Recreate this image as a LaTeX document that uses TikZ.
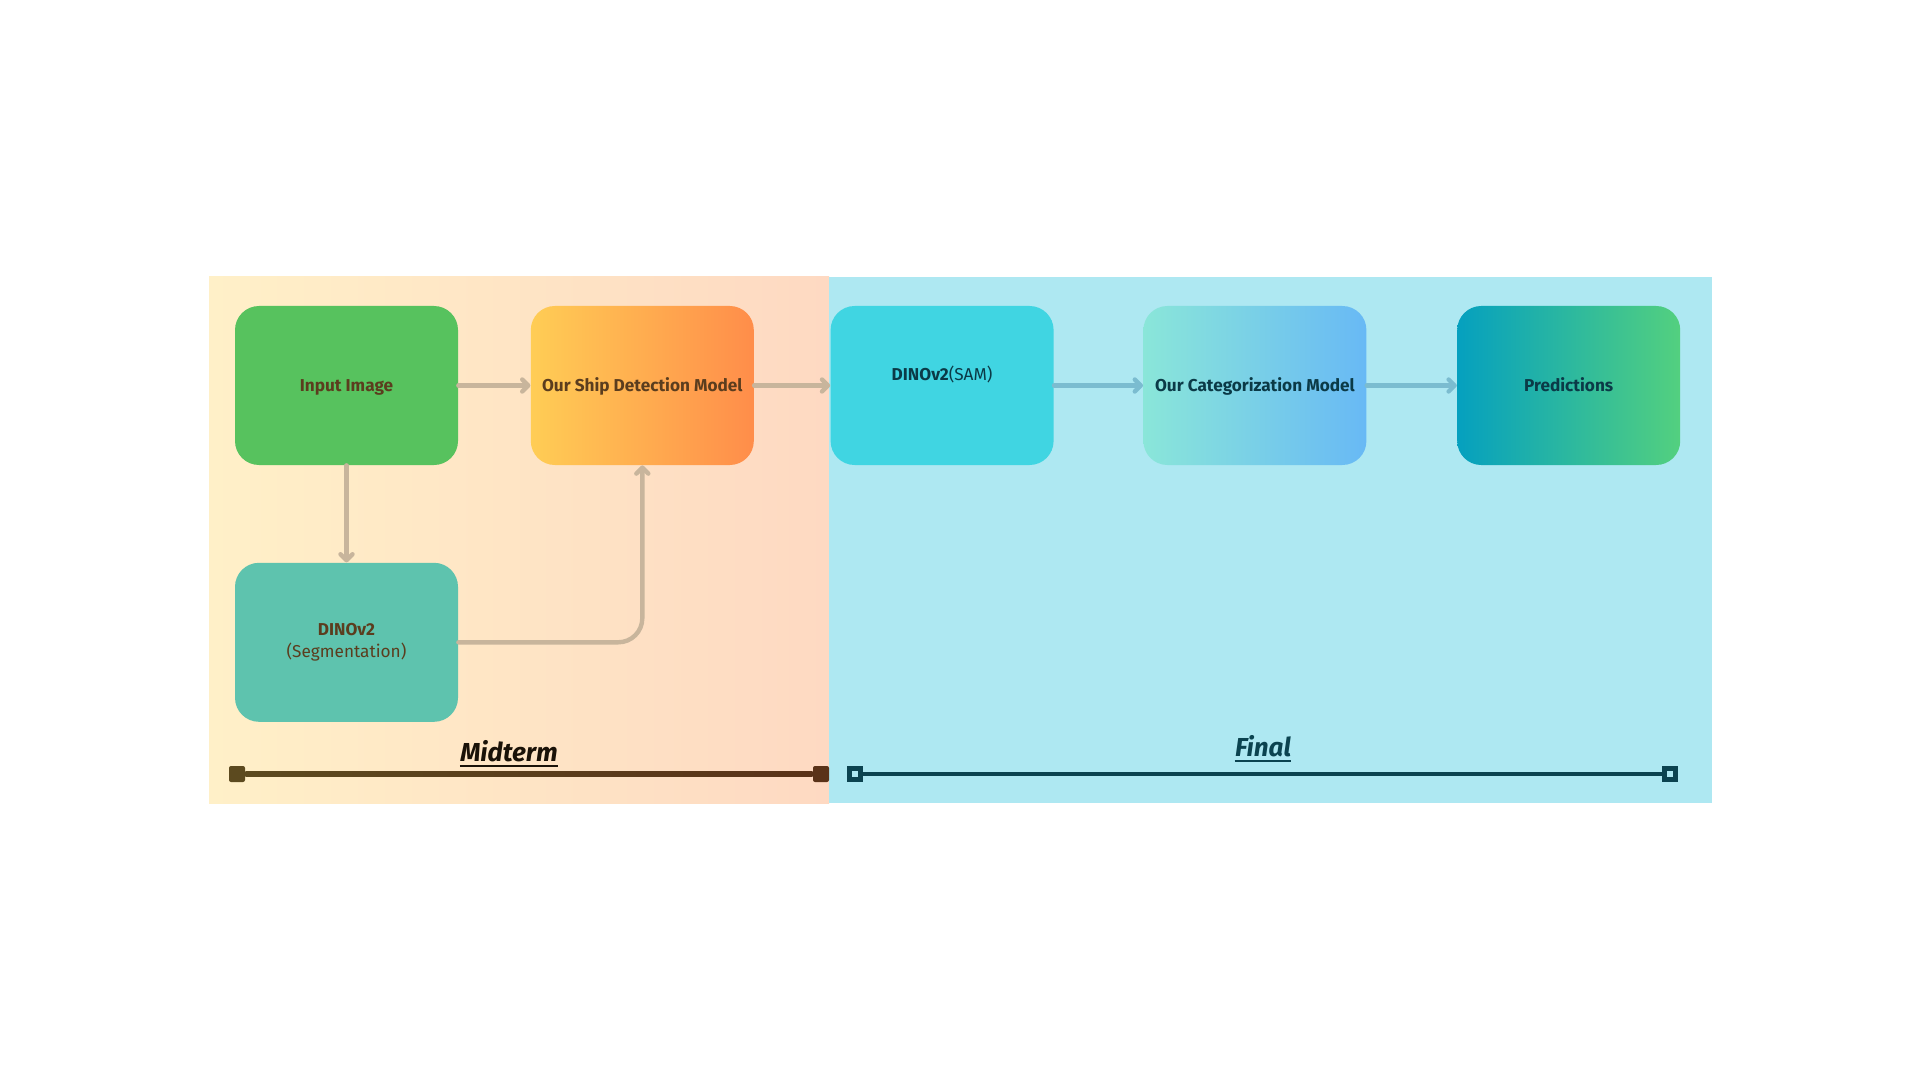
\documentclass[tikz,border=0pt]{standalone}
\usepackage{fontspec}
\setmainfont{Fira Sans}
\usetikzlibrary{positioning, arrows.meta}
\usepackage{xcolor}

\definecolor{midA}{HTML}{FFF0C8}
\definecolor{midB}{HTML}{FED9C2}
\definecolor{finalbg}{HTML}{AEE8F2}
\definecolor{inpgreen}{HTML}{57C25E}
\definecolor{shipA}{HTML}{FFCD55}
\definecolor{shipB}{HTML}{FF8D4A}
\definecolor{segteal}{HTML}{5EC3AE}
\definecolor{samcyan}{HTML}{40D5E2}
\definecolor{catA}{HTML}{8AE6D9}
\definecolor{catB}{HTML}{68B9F5}
\definecolor{predA}{HTML}{05A0BF}
\definecolor{predB}{HTML}{53D07F}
\definecolor{arrowL}{HTML}{C8B59C}
\definecolor{arrowR}{HTML}{7BBCD0}
\definecolor{textL}{HTML}{5B3D1E}
\definecolor{textR}{HTML}{0B3A47}
\definecolor{midtext}{HTML}{1A1208}
\definecolor{midlineA}{HTML}{5C4A1F}
\definecolor{midlineB}{HTML}{5A3218}
\definecolor{finalline}{HTML}{0B4350}

\begin{document}
\begin{tikzpicture}[x=0.5pt, y=-0.5pt,
                box/.style={rounded corners=12pt, minimum width=111.5pt, minimum height=79.5pt,
                    inner sep=2pt, align=center, font=\fontsize{8.6}{11}\selectfont},
                oneline/.style={text height=6pt, text depth=0pt},
                flowL/.style={draw=arrowL, line width=2.2pt, line cap=round,
                    -{Straight Barb[length=3pt,width=6pt,round]}},
                flowR/.style={flowL, draw=arrowR},
                tickfill/.style={minimum size=8pt, inner sep=0pt, rounded corners=1pt},
                tickopen/.style={draw=finalline, line width=2.4pt, fill=finalbg,
                    minimum size=5.6pt, inner sep=0pt},
                phase/.style={inner sep=0pt, font=\fontsize{13}{15}\selectfont\bfseries\itshape}]

    \useasboundingbox (0,0) rectangle (1920,1080);
    \fill[white] (0,0) rectangle (1920,1080);
    % the two phases
    \shade[left color=midA, right color=midB] (209,277) rectangle (829,803);
    \fill[finalbg] (829,277) rectangle (1712,803);

    \node[box, oneline, fill=inpgreen, text=textL] (inp) at (346.5,385.5) {\bfseries Input Image};
    \node[box, oneline, left color=shipA, right color=shipB, text=textL, right=36pt of inp] (ship)
        {\bfseries Our Ship Detection Model};
    \node[box, fill=segteal, text=textL, below=48.5pt of inp] (seg)
        {\bfseries DINOv2\\ (Segmentation)};
    \node[box, fill=samcyan, text=textR, text height=8pt, text depth=13.5pt, right=38pt of ship] (sam)
        {\bfseries DINOv2\mdseries(SAM)};
    \node[box, oneline, left color=catA, right color=catB, text=textR, right=44.5pt of sam] (cat)
        {\bfseries Our Categorization Model};
    \node[box, oneline, left color=predA, right color=predB, text=textR, right=45pt of cat] (pred)
        {\bfseries Predictions};

    \draw[flowL] (inp) -- (ship);
    \draw[flowL] (inp) -- (seg);
    \draw[flowL, rounded corners=12pt] (seg.east) -| (ship.south);
    \draw[flowL] (ship) -- (sam);
    \draw[flowR] (sam) -- (cat);
    \draw[flowR] (cat) -- (pred);

    % timeline
    \node[tickfill, fill=midlineA] (m0) at (237,774) {};
    \node[tickfill, fill=midlineB] (m1) at (821,774) {};
    \shade[left color=midlineA, right color=midlineB] ([yshift=1.1pt]m0.east) rectangle ([yshift=-1.1pt]m1.west);
    \node[tickopen] (f0) at (855,774) {};
    \node[tickopen] (f1) at (1670,774) {};
    \draw[finalline, line width=2.2pt] (f0) -- (f1);

    \node[phase, text=midtext] (midlbl) at (509,751) {Midterm};
    \draw[midtext, line width=1pt] ([yshift=-2pt]midlbl.south west) -- ([yshift=-2pt]midlbl.south east);
    \node[phase, text=finalline] (finlbl) at (1263,746) {Final};
    \draw[finalline, line width=1pt] ([yshift=-2pt]finlbl.south west) -- ([yshift=-2pt]finlbl.south east);

\end{tikzpicture}
\end{document}
